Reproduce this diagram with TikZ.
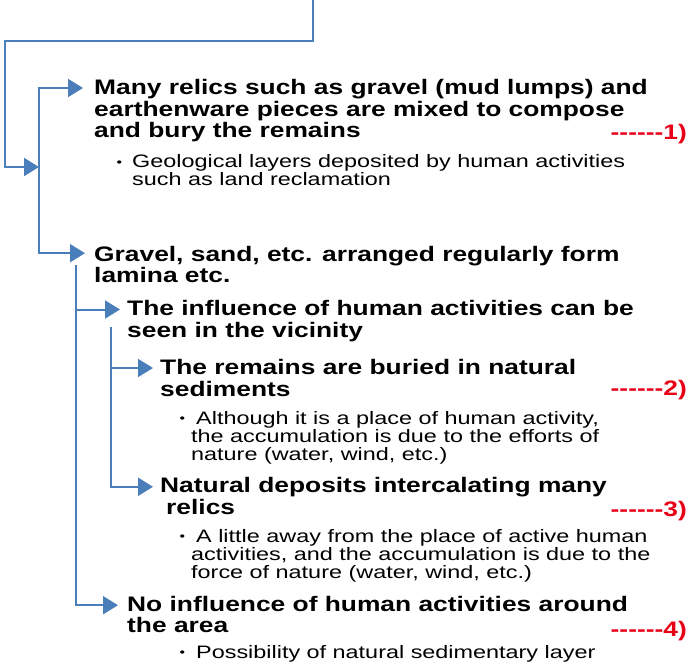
\documentclass[tikz,border=0pt]{standalone}
\usepackage{fontspec}
\setmainfont{Liberation Sans}
\newfontfamily\headfont{Liberation Sans}[FakeStretch=1.255]
\newfontfamily\notefont{Liberation Sans}[FakeStretch=1.30]
\usetikzlibrary{arrows.meta}
\definecolor{treeblue}{RGB}{74,126,187}
\definecolor{markred}{RGB}{232,0,22}
\tikzstyle{head} = [inner sep=0pt, anchor=base west, align=left, font=\headfont\fontsize{21}{21.5}\selectfont\bfseries]
\tikzstyle{note} = [inner sep=0pt, anchor=base west, align=left, font=\notefont\fontsize{18}{18}\selectfont]
\tikzstyle{num} = [inner sep=0pt, anchor=base east, text=markred, font=\headfont\fontsize{21}{21}\selectfont\bfseries]
\tikzstyle{wire} = [draw=treeblue, line width=2pt]
\tikzstyle{feed} = [wire, -{Triangle[length=15pt,width=18pt]}]
\newcommand{\dashes}[1]{-\kern0pt-\kern0pt-\kern0pt-\kern0pt-\kern0pt-\kern0pt#1)}
\newcommand{\dotfirst}[1]{\llap{\raisebox{1.5pt}{\fontsize{12}{12}\selectfont •}\hspace{#1}}}

\begin{document}
\begin{tikzpicture}[x=1pt, y=-1pt]
    \useasboundingbox (0,0) rectangle (691,664);

    % nodes sit on the baseline of their last line
    \node[head](n1) at (94,137.5) {Many relics such as gravel (mud lumps) and\\earthenware pieces are mixed to compose\\and bury the remains};
    \node[note](s1) at (132,185.8) {\dotfirst{10pt}Geological layers deposited by human activities\\such as land reclamation};
    \node[head](n2) at (94,282.7) {Gravel, sand, etc. arranged regularly form\\lamina etc.};
    \node[head](n3) at (127,337) {The influence of human activities can be\\seen in the vicinity};
    \node[head](n4) at (160,396) {The remains are buried in natural\\sediments};
    \node[note](s4) at (191,460) {\dotfirst{6pt}\hspace{5pt}Although it is a place of human activity,\\the accumulation is due to the efforts of\\nature (water, wind, etc.)};
    \node[head](n5) at (160,514.3) {Natural deposits intercalating many\\\hspace*{6pt}relics};
    \node[note](s5) at (191,578.3) {\dotfirst{6pt}\hspace{5pt}A little away from the place of active human\\activities, and the accumulation is due to the\\force of nature (water, wind, etc.)};
    \node[head](n6) at (127,632.7) {No influence of human activities around\\the area};
    \node[note](s6) at (191,658.3) {\dotfirst{6pt}\hspace{5pt}Possibility of natural sedimentary layer};

    \node[num](m1) at (687,139) {\dashes{1}};
    \node[num](m2) at (687,395) {\dashes{2}};
    \node[num](m3) at (687,516) {\dashes{3}};
    \node[num](m4) at (687,636) {\dashes{4}};

    % arrow ends beside the first line of each heading
    \coordinate (n1-in) at ([xshift=-11pt,yshift=49.5pt]n1.base west);
    \coordinate (n2-in) at ([xshift=-9pt,yshift=29.5pt]n2.base west);
    \coordinate (n3-in) at ([xshift=-7pt,yshift=27.5pt]n3.base west);
    \coordinate (n4-in) at ([xshift=-7pt,yshift=28pt]n4.base west);
    \coordinate (n5-in) at ([xshift=-7pt,yshift=27.5pt]n5.base west);
    \coordinate (n6-in) at ([xshift=-9pt,yshift=27.5pt]n6.base west);

    % tree
    \coordinate (top) at (313,0);
    \coordinate (split) at (39,167);
    \coordinate (j2) at ([xshift=-18pt,yshift=17.5pt]n2.base west);
    \coordinate (j3) at ([xshift=-16pt,yshift=10pt]n3.base west);

    \draw[feed] (top) -- ++(0,41) -| ([xshift=-34pt]split) -- (split);
    \draw[feed] (split) |- (n1-in);
    \draw[feed] (split) |- (n2-in);
    \draw[feed] (j2) |- (n3-in);
    \draw[feed] (j2) |- (n6-in);
    \draw[feed] (j3) |- (n4-in);
    \draw[feed] (j3) |- (n5-in);
\end{tikzpicture}
\end{document}
